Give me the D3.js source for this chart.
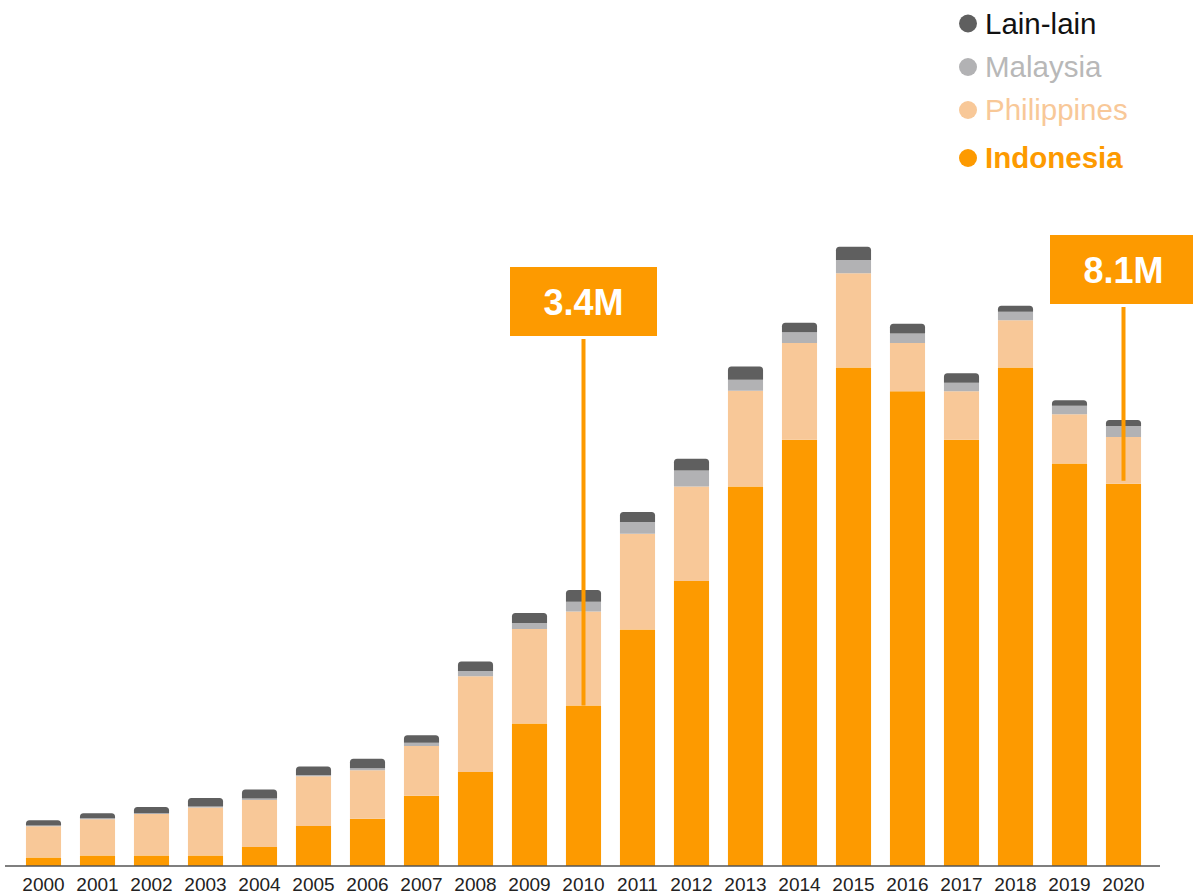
<!DOCTYPE html>
<html>
<head>
<meta charset="utf-8">
<script src="https://cdn.jsdelivr.net/npm/d3@7"></script>
<style>
  html, body { margin: 0; padding: 0; background: #ffffff; }
  svg { display: block; }
</style>
</head>
<body>
<svg id="chart" width="1193" height="896"></svg>
<script>
// Years on the x axis
const years = ["2000","2001","2002","2003","2004","2005","2006","2007","2008","2009","2010",
               "2011","2012","2013","2014","2015","2016","2017","2018","2019","2020"];

// Values per origin, in millions
const indonesia   = [0.18, 0.22, 0.22, 0.22, 0.40, 0.85, 1.00, 1.49, 1.99, 3.02, 3.40,
                     5.01, 6.04, 8.04, 9.03, 10.56, 10.06, 9.03, 10.56, 8.53, 8.10];
const philippines = [0.66, 0.77, 0.88, 1.02, 1.00, 1.05, 1.03, 1.05, 2.03, 2.00, 1.99,
                     2.03, 2.00, 2.03, 2.05, 2.00, 1.02, 1.03, 1.00, 1.04, 0.99];
const malaysia    = [0.02, 0.02, 0.02, 0.02, 0.03, 0.03, 0.04, 0.07, 0.11, 0.13, 0.21,
                     0.25, 0.34, 0.23, 0.23, 0.28, 0.20, 0.18, 0.18, 0.18, 0.23];
const lainLain    = [0.11, 0.11, 0.13, 0.18, 0.19, 0.18, 0.20, 0.16, 0.20, 0.21, 0.25,
                     0.21, 0.25, 0.28, 0.20, 0.28, 0.21, 0.20, 0.13, 0.12, 0.13];

// Series, bottom to top
const seriesNames  = ["Indonesia", "Philippines", "Malaysia", "Lain-lain"];
const seriesValues = [indonesia, philippines, malaysia, lainLain];
const seriesColors = ["#fd9a00", "#f8c898", "#b2b2b4", "#5f5f5f"];
const legendText   = ["#fd9a00", "#f8c898", "#b8b8b8", "#111111"];

// Call-outs on the Indonesia series
const calloutYears  = ["2010", "2020"];
const calloutLabels = ["3.4M", "8.1M"];

const svg = d3.select("#chart");
const baseY = 866;

const rows = years.map((yr, i) => {
  const r = { year: yr };
  seriesNames.forEach((n, s) => { r[n] = seriesValues[s][i]; });
  return r;
});

const x = d3.scaleBand()
  .domain(years)
  .range([16.5, 1150.5])
  .paddingInner(0.35)
  .paddingOuter(0.175);

const y = d3.scaleLinear()
  .domain([0, 13])
  .range([baseY, baseY - 13 * 47.2]);

const stacked = d3.stack().keys(seriesNames)(rows);

// Rectangle with rounded top corners only
function topRounded(x0, y0, w, h, r) {
  r = Math.min(r, h, w / 2);
  return `M${x0},${y0 + h}V${y0 + r}Q${x0},${y0} ${x0 + r},${y0}` +
         `H${x0 + w - r}Q${x0 + w},${y0} ${x0 + w},${y0 + r}V${y0 + h}Z`;
}

const layers = svg.append("g").attr("class", "bars")
  .selectAll("g")
  .data(stacked)
  .join("g")
  .attr("fill", (d, i) => seriesColors[i]);

layers.each(function (layer, li) {
  const g = d3.select(this);
  const isTop = li === stacked.length - 1;
  g.selectAll("path")
    .data(layer)
    .join("path")
    .attr("d", d => {
      const x0 = x(d.data.year);
      const y0 = y(d[1]);
      const h = y(d[0]) - y(d[1]);
      return isTop ? topRounded(x0, y0, x.bandwidth(), h, 3.5)
                   : `M${x0},${y0}h${x.bandwidth()}v${h}h${-x.bandwidth()}Z`;
    });
});

// Baseline
svg.append("line")
  .attr("x1", 5).attr("x2", 1160)
  .attr("y1", baseY).attr("y2", baseY)
  .attr("stroke", "#555").attr("stroke-width", 1.5);

// Year labels
const xAxis = svg.append("g")
  .attr("transform", `translate(0,${baseY})`)
  .call(d3.axisBottom(x).tickSize(0).tickPadding(0));
xAxis.select(".domain").remove();
xAxis.selectAll("text")
  .attr("y", 12)
  .attr("dy", "0.71em")
  .attr("font-family", "'Liberation Sans', Arial, sans-serif")
  .attr("font-size", 19)
  .attr("fill", "#222");

// Call-out boxes with leader lines
const boxTops = [267, 235];
const calloutG = svg.append("g").attr("class", "callouts");
calloutYears.forEach((yr, i) => {
  const idx = years.indexOf(yr);
  const cx = x(yr) + x.bandwidth() / 2;
  const top = boxTops[i];
  const boxW = 147, boxH = 69;
  calloutG.append("line")
    .attr("x1", cx).attr("x2", cx)
    .attr("y1", top + boxH + 3)
    .attr("y2", y(indonesia[idx]) - (i === 1 ? 3 : 0))
    .attr("stroke", "#fd9a00").attr("stroke-width", 4);
  calloutG.append("rect")
    .attr("x", cx - boxW / 2).attr("y", top)
    .attr("width", boxW).attr("height", boxH)
    .attr("fill", "#fd9a00");
  calloutG.append("text")
    .attr("x", cx).attr("y", top + boxH / 2 + 13)
    .attr("text-anchor", "middle")
    .attr("font-family", "'Liberation Sans', Arial, sans-serif")
    .attr("font-weight", "bold")
    .attr("font-size", 36)
    .attr("fill", "#ffffff")
    .text(calloutLabels[i]);
});

// Legend, top series first
const legendBaselines = [33.5, 77, 120, 168];
const legend = svg.append("g").attr("class", "legend");
const order = d3.range(seriesNames.length).reverse();
order.forEach((s, row) => {
  const by = legendBaselines[row];
  legend.append("circle")
    .attr("cx", 968).attr("cy", by - 10)
    .attr("r", 9)
    .attr("fill", seriesColors[s]);
  legend.append("text")
    .attr("x", 985).attr("y", by)
    .attr("font-family", "'Liberation Sans', Arial, sans-serif")
    .attr("font-size", 29.5)
    .attr("font-weight", seriesNames[s] === "Indonesia" ? "bold" : "normal")
    .attr("fill", legendText[s])
    .text(seriesNames[s]);
});
</script>
</body>
</html>
